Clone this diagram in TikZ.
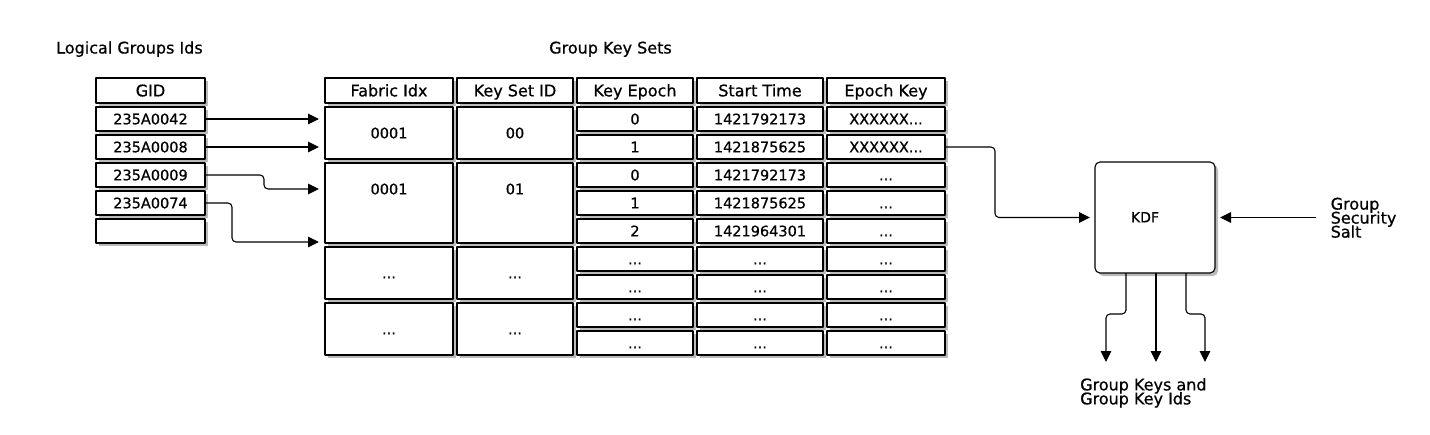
\documentclass[tikz,border=0pt]{standalone}
\usepackage{fontspec}
\setmainfont{DejaVu Sans}[FakeBold=0.7]
\usetikzlibrary{arrows.meta,shadows}

\begin{document}
\begin{tikzpicture}[x=1pt, y=-1pt, line join=round, >={Triangle[length=11pt, width=10.5pt]},
		cell/.style={draw=black, fill=white, line width=1.1pt, inner sep=0pt, outer sep=0pt,
			text height=10.6pt, text depth=0pt, font=\fontsize{14.5}{16}\selectfont,
			drop shadow={shadow xshift=3pt, shadow yshift=-3pt, fill=black!60, opacity=0.45}},
		head/.style={cell, text height=11.7pt, font=\fontsize{16}{18}\selectfont},
		lbl/.style={inner sep=0pt, text height=10.6pt, text depth=0pt, font=\fontsize{14.5}{16}\selectfont},
		title/.style={inner sep=0pt, font=\fontsize{16}{18}\selectfont},
		note/.style={inner sep=0pt, align=left, font=\fontsize{16}{14}\selectfont,
			execute at begin node={\lineskiplimit=-20pt\relax}},
		link/.style={->, line width=1.1pt, rounded corners=4pt}]
	\useasboundingbox (0,0) rectangle (1430,434);
	\def\dd{...}
	\def\cell#1#2#3#4#5#6#7{
		\pgfmathsetmacro{\cellw}{#5-#3}
		\pgfmathsetmacro{\cellh}{#6-#4}
		\node[#1, minimum width=\cellw pt, minimum height=\cellh pt] (#2) at ({(#3+#5)/2}, {(#4+#6)/2}) {#7};
	}
	
	\node[title, anchor=base west] (gidtitle) at (56,53.5) {Logical Groups Ids};
	\node[title, anchor=base] (settitle) at (610.5,53.5) {Group Key Sets};
	
	\cell{head}{gidh}{96}{78}{205}{103}{GID}
	\foreach \i/\t in {0/235A0042, 1/235A0008, 2/235A0009, 3/235A0074, 4/{}} {
		\pgfmathsetmacro{\y}{107+28*\i}
		\cell{cell}{gid\i}{96}{\y}{205}{\y+24}{\t}
	}
	
	\foreach \n/\a/\b/\t in {fab/325/453/Fabric Idx, kset/457/573/Key Set ID, epo/577/693/Key Epoch, start/697/823/Start Time, ekey/827/945/Epoch Key} {
		\cell{head}{\n h}{\a}{78}{\b}{103}{\t}
	}
	\foreach \g/\r/\k/\f/\s in {1/0/2/0001/00, 2/2/3/0001/01, 3/5/2/\dd/\dd, 4/7/2/\dd/\dd} {
		\pgfmathsetmacro{\ya}{107+28*\r}
		\pgfmathsetmacro{\yb}{107+28*(\r+\k)-4}
		\cell{cell}{fab\g}{325}{\ya}{453}{\yb}{}
		\cell{cell}{kset\g}{457}{\ya}{573}{\yb}{}
		\node[lbl] (fabl\g) at (389,\ya+26) {\f};
		\node[lbl] (ksetl\g) at (515,\ya+26) {\s};
	}
	\foreach \i/\e/\s/\k in {0/0/1421792173/XXXXXX\dd, 1/1/1421875625/XXXXXX\dd, 2/0/1421792173/\dd, 3/1/1421875625/\dd, 4/2/1421964301/\dd, 5/\dd/\dd/\dd, 6/\dd/\dd/\dd, 7/\dd/\dd/\dd, 8/\dd/\dd/\dd} {
		\pgfmathsetmacro{\y}{107+28*\i}
		\cell{cell}{epo\i}{577}{\y}{693}{\y+24}{\e}
		\cell{cell}{start\i}{697}{\y}{823}{\y+24}{\s}
		\cell{cell}{ekey\i}{827}{\y}{945}{\y+24}{\k}
	}
	
	\draw[link] (gid0.east) -- ([xshift=-6pt]fab1.west |- gid0.east);
	\draw[link] (gid1.east) -- ([xshift=-6pt]fab1.west |- gid1.east);
	\draw[link] (gid2.east) -- ++(59,0) |- ([xshift=-6pt]fab2.west |- fabl2.center);
	\draw[link] (gid3.east) -- ++(27,0) |- ([xshift=-6pt,yshift=1pt]fab2.south west);
	
	\cell{cell, rounded corners=5pt}{kdf}{1095}{162}{1215}{273}{}
	\node[lbl, font=\fontsize{14}{16}\selectfont] (kdfl) at (1145,217) {KDF};
	\draw[link] (ekey1.east) -- ++(50,0) |- ([xshift=-5pt]kdf.west);
	
	\node[note, anchor=north west] (salt) at (1330.5,197.5) {Group\\Security\\Salt};
	\draw[link] ([xshift=-15pt]salt.west |- kdf.east) -- ([xshift=5pt]kdf.east);
	
	\node[note, anchor=north west] (keys) at (1080,378) {Group Keys and\\Group Key Ids};
	\draw[link] ([xshift=-29pt]kdf.south) |- ++(-20,41) -- ++(0,48);
	\draw[link] ([xshift=1pt]kdf.south) -- ++(0,89);
	\draw[link] ([xshift=31pt]kdf.south) |- ++(19,41) -- ++(0,48);
\end{tikzpicture}
\end{document}
